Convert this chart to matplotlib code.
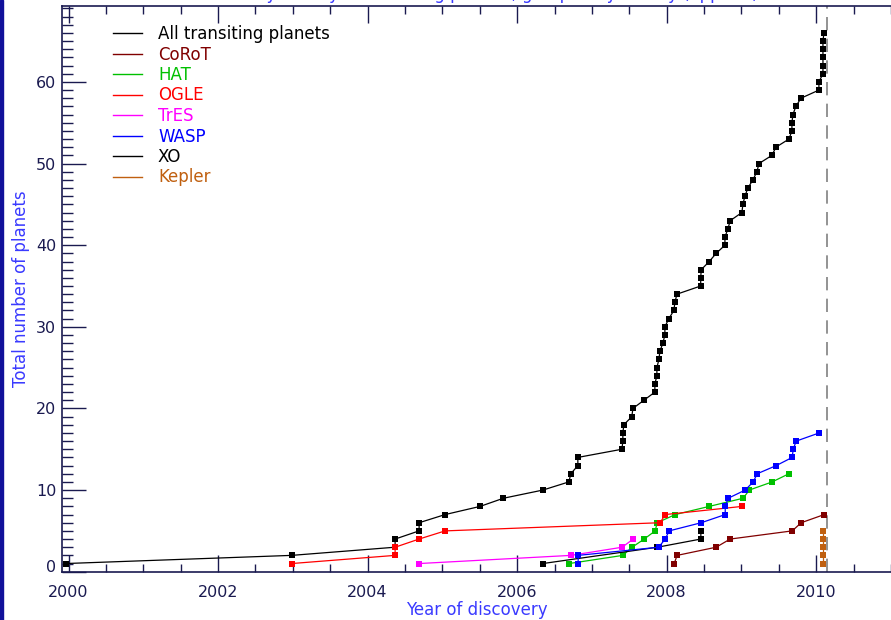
import matplotlib
matplotlib.use("Agg")
import matplotlib.pyplot as plt
from matplotlib.ticker import MultipleLocator
from matplotlib.lines import Line2D

# ---------------- data (decimal year of discovery, cumulative count) ----------------
all_years = [1999.963, 2002.986, 2004.368, 2004.368, 2004.689, 2004.689, 2005.037, 2005.505,
             2005.817, 2006.344, 2006.692, 2006.718, 2006.812, 2006.812, 2007.401, 2007.414,
             2007.414, 2007.427, 2007.534, 2007.548, 2007.695, 2007.842, 2007.842, 2007.869,
             2007.869, 2007.896, 2007.909, 2007.949, 2007.976, 2007.976, 2008.029, 2008.096,
             2008.110, 2008.137, 2008.455, 2008.455, 2008.462, 2008.569, 2008.662, 2008.779,
             2008.779, 2008.819, 2008.849, 2009.006, 2009.019, 2009.046, 2009.086, 2009.153,
             2009.207, 2009.234, 2009.407, 2009.461, 2009.635, 2009.675, 2009.675, 2009.688,
             2009.728, 2009.795, 2010.036, 2010.036, 2010.090, 2010.090, 2010.090, 2010.090,
             2010.090, 2010.103]
all_counts = list(range(1, 67))

corot_years = [2008.100, 2008.140, 2008.662, 2008.849, 2009.679, 2009.799, 2010.107]
corot_counts = [1, 2, 3, 4, 5, 6, 7]

hat_years = [2006.696, 2007.414, 2007.538, 2007.699, 2007.846, 2007.873, 2008.114, 2008.569,
             2009.023, 2009.104, 2009.411, 2009.635]
hat_counts = [1, 2, 3, 4, 5, 6, 7, 8, 9, 10, 11, 12]

ogle_years = [2002.986, 2004.368, 2004.368, 2004.689, 2005.037, 2007.913, 2007.980, 2009.010]
ogle_counts = [1, 2, 3, 4, 5, 6, 7, 8]

tres_years = [2004.689, 2006.722, 2007.405, 2007.552]
tres_counts = [1, 2, 3, 4]

wasp_years = [2006.816, 2006.816, 2007.893, 2007.980, 2008.033, 2008.462, 2008.783, 2008.783,
              2008.823, 2009.050, 2009.157, 2009.211, 2009.465, 2009.679, 2009.692, 2009.732,
              2010.040]
wasp_counts = [1, 2, 3, 4, 5, 6, 7, 8, 9, 10, 11, 12, 13, 14, 15, 16, 17]

xo_years = [2006.344, 2007.877, 2008.457, 2008.457]
xo_counts = [1, 3, 4, 5]

kepler_years = [2010.094, 2010.094, 2010.094, 2010.094, 2010.094]
kepler_counts = [1, 2, 3, 4, 5]

current_date = 2010.15

x_ticks = [2000, 2002, 2004, 2006, 2008, 2010]
y_ticks = [0, 10, 20, 30, 40, 50, 60]

names = ["All transiting planets", "CoRoT", "HAT", "OGLE", "TrES", "WASP", "XO", "Kepler"]
colors = ["#000000", "#800000", "#00c000", "#ff0000", "#ff00ff", "#0000ff", "#000000", "#c06010"]

# ---------------- figure ----------------
W, H = 891, 620
fig = plt.figure(figsize=(W / 100, H / 100), dpi=100)
fig.patch.set_facecolor("white")

ax_left, ax_right, ax_top, ax_bot = 61.7, 891.0, 6.0, 571.7
ax = fig.add_axes([ax_left / W, (H - ax_bot) / H, (ax_right - ax_left) / W, (ax_bot - ax_top) / H])

navy = "#1a1a50"
series = [
    (all_years, all_counts, 0),
    (corot_years, corot_counts, 1),
    (hat_years, hat_counts, 2),
    (ogle_years, ogle_counts, 3),
    (tres_years, tres_counts, 4),
    (xo_years, xo_counts, 6),
    (wasp_years, wasp_counts, 5),
    (kepler_years, kepler_counts, 7),
]
for xs, ys, i in series:
    ax.plot(xs, ys, color=colors[i], lw=0.9, marker="s", markersize=5,
            markeredgewidth=0, markerfacecolor=colors[i], zorder=3)

ax.axvline(current_date, color="#808080", lw=1.2, ls=(0, (8, 5)), zorder=2)

ax.set_xlim(1999.909, 2011.0)
ax.set_ylim(0, 69.3)

ax.set_xticks(x_ticks)
ax.set_yticks(y_ticks)
ax.xaxis.set_minor_locator(MultipleLocator(0.5))
ax.yaxis.set_minor_locator(MultipleLocator(1))
ax.tick_params(which="both", direction="in", top=True, right=False, color=navy,
               labelcolor=navy, labelsize=11.5)
ax.tick_params(axis="x", which="major", length=12, width=1, pad=9.5)
ax.tick_params(axis="x", which="minor", length=6, width=1)
ax.tick_params(axis="y", which="major", length=17, width=1, pad=4)
ax.tick_params(axis="y", which="minor", length=8, width=1)
for s in ax.spines.values():
    s.set_color(navy)
    s.set_linewidth(1.2)
ax.spines["right"].set_visible(False)

# the "0" label sits on the x axis line, as in the reference
ax.yaxis.get_major_ticks()[0].label1.set_verticalalignment("baseline")

ax.set_xlabel("Year of discovery", color="#3a3aff", fontsize=12, labelpad=1)
ax.set_ylabel("Total number of planets", color="#3a3aff", fontsize=12, labelpad=4.5)

handles = [Line2D([0], [0], color=c, lw=1) for c in colors]
leg = ax.legend(handles, names, loc="upper left",
                bbox_to_anchor=((113 - ax_left) / (ax_right - ax_left), 1 - (25 - ax_top) / (ax_bot - ax_top)),
                frameon=False, fontsize=12, handlelength=1.75, handletextpad=0.95,
                labelspacing=0.15, borderaxespad=0, borderpad=0)
for t, c in zip(leg.get_texts(), colors):
    t.set_color(c)

# title, cut off at the top of the image as in the reference
fig.text(0.534, 1 - 3.0 / H, "Discovery history of transiting planets, grouped by survey (approx.)",
         color="#3a3aff", fontsize=12, ha="center", va="bottom")

# dark blue bar at the left edge
fig.add_artist(plt.Rectangle((0, 0), 3 / W, 1, transform=fig.transFigure, color="#10109a", zorder=10))

fig.savefig("out.png", dpi=100)
